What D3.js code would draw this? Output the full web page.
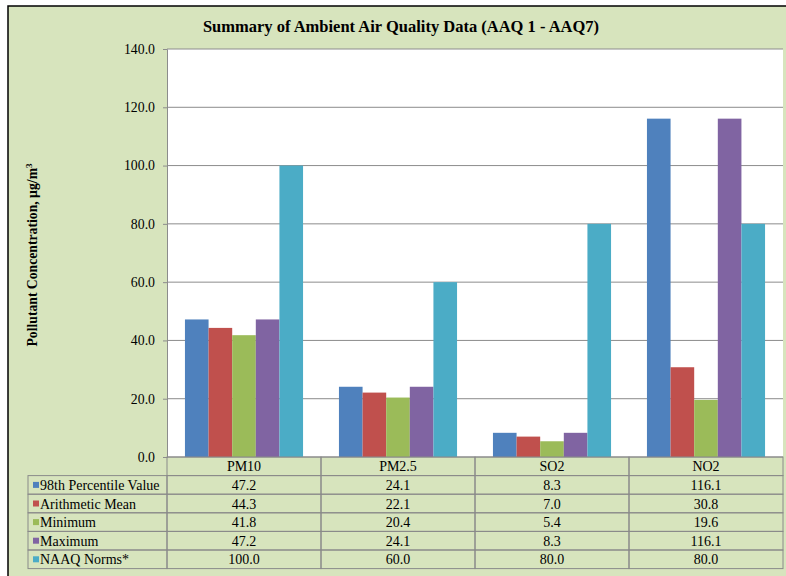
<!DOCTYPE html>
<html>
<head>
<meta charset="utf-8">
<script src="https://cdn.jsdelivr.net/npm/d3@7"></script>
<style>
    body { margin: 0; background: #ffffff; }
    svg { display: block; }
</style>
</head>
<body>
<div id="graphique"></div>
<script>
const categories = ["PM10", "PM2.5", "SO2", "NO2"];
const seriesNames = ["98th Percentile Value", "Arithmetic Mean", "Minimum", "Maximum", "NAAQ Norms*"];
const percentile98 = [47.2, 24.1, 8.3, 116.1];
const arithMean = [44.3, 22.1, 7.0, 30.8];
const minimum = [41.8, 20.4, 5.4, 19.6];
const maximum = [47.2, 24.1, 8.3, 116.1];
const naaqNorms = [100.0, 60.0, 80.0, 80.0];
const yTicks = [0, 20, 40, 60, 80, 100, 120, 140];
const colors = ["#4f81bd", "#c0504d", "#9bbb59", "#8064a2", "#4bacc6"];

const FONT = "'Liberation Serif', 'Times New Roman', serif";

function AffichageGraph() {
    const width = 786, height = 576;
    const plot = { left: 167, right: 783, top: 49, bottom: 457 };
    const rowH = 18.6;
    const tableLeft = 28;

    const series = [percentile98, arithMean, minimum, maximum, naaqNorms];

    const svg = d3.select("#graphique").append("svg")
        .attr("width", width)
        .attr("height", height)
        .style("font-family", FONT);

    // fond
    svg.append("rect")
        .attr("x", 0).attr("y", 0)
        .attr("width", width).attr("height", height)
        .style("fill", "#ffffff");
    svg.append("rect")
        .attr("x", 8).attr("y", 6)
        .attr("width", width).attr("height", height)
        .style("fill", "#d7e4bd")
        .style("stroke", "#000")
        .style("stroke-width", 1.5);

    // titre
    svg.append("text")
        .attr("x", 401)
        .attr("y", 32)
        .attr("text-anchor", "middle")
        .style("font-family", FONT)
        .style("font-size", "16.5px")
        .style("font-weight", "bold")
        .text("Summary of Ambient Air Quality Data (AAQ 1 - AAQ7)");

    // zone du graphique
    svg.append("rect")
        .attr("x", plot.left).attr("y", plot.top)
        .attr("width", plot.right - plot.left)
        .attr("height", plot.bottom - plot.top)
        .style("fill", "#ffffff");

    const xScale = d3.scaleBand()
        .domain(categories)
        .range([plot.left, plot.right])
        .padding(0);

    const xSub = d3.scaleBand()
        .domain(d3.range(seriesNames.length))
        .range([0, xScale.bandwidth()])
        .paddingInner(0)
        .paddingOuter(0.76);

    const yScale = d3.scaleLinear()
        .domain([0, 140])
        .range([plot.bottom, plot.top]);

    // grille
    svg.append("g")
        .selectAll("line")
        .data(yTicks)
        .enter()
        .append("line")
        .attr("x1", plot.left)
        .attr("x2", plot.right)
        .attr("y1", d => yScale(d))
        .attr("y2", d => yScale(d))
        .style("stroke", "#8c8c8c")
        .style("stroke-width", 1);

    // axe y
    const yAxis = svg.append("g")
        .attr("transform", `translate(${plot.left},0)`)
        .call(d3.axisLeft(yScale).tickValues(yTicks).tickFormat(d3.format(".1f")).tickSize(4).tickPadding(8));
    yAxis.attr("font-family", null);
    yAxis.select(".domain").style("stroke", "#8c8c8c");
    yAxis.selectAll(".tick line").style("stroke", "#8c8c8c");
    yAxis.selectAll("text")
        .style("font-family", FONT)
        .style("font-size", "13.8px")
        .style("fill", "#000");

    // barres
    series.forEach((values, s) => {
        svg.append("g")
            .selectAll("rect")
            .data(values)
            .enter()
            .append("rect")
            .attr("x", (d, i) => xScale(categories[i]) + xSub(s))
            .attr("y", d => yScale(d))
            .attr("width", xSub.bandwidth())
            .attr("height", d => plot.bottom - yScale(d))
            .style("fill", colors[s]);
    });

    // titre axe y
    svg.append("text")
        .attr("transform", `translate(37,255) rotate(-90)`)
        .attr("text-anchor", "middle")
        .style("font-family", FONT)
        .style("font-size", "13.7px")
        .style("font-weight", "bold")
        .text("Pollutant Concentration, µg/m")
        .append("tspan")
        .attr("dy", -5)
        .style("font-size", "9px")
        .text("3");

    // tableau de donnees
    const table = svg.append("g").style("font-family", FONT);
    const lineStyle = sel => sel.style("stroke", "#8a8a8a").style("stroke-width", 1);

    // ligne des categories
    categories.forEach(c => {
        table.append("rect")
            .attr("x", xScale(c))
            .attr("y", plot.bottom)
            .attr("width", xScale.bandwidth())
            .attr("height", rowH)
            .style("fill", "none")
            .call(lineStyle);
        table.append("text")
            .attr("x", xScale(c) + xScale.bandwidth() / 2)
            .attr("y", plot.bottom + rowH / 2 + 5)
            .attr("text-anchor", "middle")
            .style("font-size", "14px")
            .text(c);
    });

    series.forEach((values, s) => {
        const y0 = plot.bottom + rowH * (s + 1);
        table.append("rect")
            .attr("x", tableLeft)
            .attr("y", y0)
            .attr("width", plot.left - tableLeft)
            .attr("height", rowH)
            .style("fill", "none")
            .call(lineStyle);
        table.append("rect")
            .attr("x", tableLeft + 5)
            .attr("y", y0 + rowH / 2 - 3)
            .attr("width", 6)
            .attr("height", 6)
            .style("fill", colors[s]);
        table.append("text")
            .attr("x", tableLeft + 12)
            .attr("y", y0 + rowH / 2 + 5)
            .style("font-size", "14px")
            .text(seriesNames[s]);

        values.forEach((v, i) => {
            table.append("rect")
                .attr("x", xScale(categories[i]))
                .attr("y", y0)
                .attr("width", xScale.bandwidth())
                .attr("height", rowH)
                .style("fill", "none")
                .call(lineStyle);
            table.append("text")
                .attr("x", xScale(categories[i]) + xScale.bandwidth() / 2)
                .attr("y", y0 + rowH / 2 + 5)
                .attr("text-anchor", "middle")
                .style("font-size", "14px")
                .text(v.toFixed(1));
        });
    });
}

AffichageGraph();
</script>
</body>
</html>
